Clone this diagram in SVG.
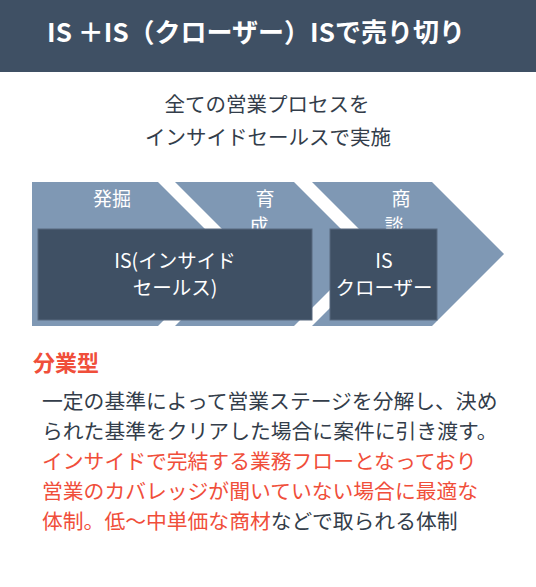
<svg xmlns="http://www.w3.org/2000/svg" width="536" height="587" viewBox="0 0 536 587">
<style>
text{font-family:"Noto Sans CJK JP","Noto Sans",sans-serif}
.chev{fill:#7f98b4}
.box{fill:#3f5064;stroke:#58697e;stroke-width:1}
.lbl{fill:#fff;font-size:19px;text-anchor:middle}
.bt{fill:#fff;font-size:19.5px;text-anchor:middle}
.sub{fill:#333d4a;font-size:20.5px;text-anchor:middle}
.body{fill:#333d4a;font-size:20.8px}
.red{fill:#f04e3a}
</style>
<rect x="0" y="0" width="536" height="72" fill="#3f5064"/>
<text x="256" y="42" fill="#fff" font-size="26" font-weight="bold" text-anchor="middle">IS ＋IS（クローザー）ISで売り切り</text>
<text class="sub" x="267" y="112">全ての営業プロセスを</text>
<text class="sub" x="268" y="145">インサイドセールスで実施</text>
<g id="stage1"><polygon class="chev" points="32,182 158,182 230,254 158,326 32,326"/><text class="lbl" x="112" y="206">発掘</text></g>
<g id="stage2"><polygon class="chev" points="175,182 294,182 366,254 294,326 175,326 247,254"/><text class="lbl" x="265" y="206">育</text><text class="lbl" x="259" y="233">成</text></g>
<g id="stage3"><polygon class="chev" points="312,182 432,182 504,254 432,326 312,326 384,254"/><text class="lbl" x="401" y="206">商</text><text class="lbl" x="394" y="233">談</text></g>
<g id="is"><rect class="box" x="38" y="229" width="274" height="91"/><text class="bt" x="175" y="268">IS(インサイド</text><text class="bt" x="175" y="295">セールス)</text></g>
<g id="closer"><rect class="box" x="330" y="229" width="107" height="91"/><text class="bt" x="384" y="268">IS</text><text class="bt" x="384" y="295">クローザー</text></g>
<text x="33" y="371" font-size="22" font-weight="bold" class="red">分業型</text>
<text class="body" x="42" y="409">一定の基準によって営業ステージを分解し、決め</text>
<text class="body" x="42" y="439">られた基準をクリアした場合に案件に引き渡す。</text>
<text class="body red" x="42" y="469">インサイドで完結する業務フローとなっており</text>
<text class="body red" x="42" y="499">営業のカバレッジが聞いていない場合に最適な</text>
<text class="body" x="42" y="529"><tspan class="red">体制。低～中単価な商材</tspan>などで取られる体制</text>
</svg>
